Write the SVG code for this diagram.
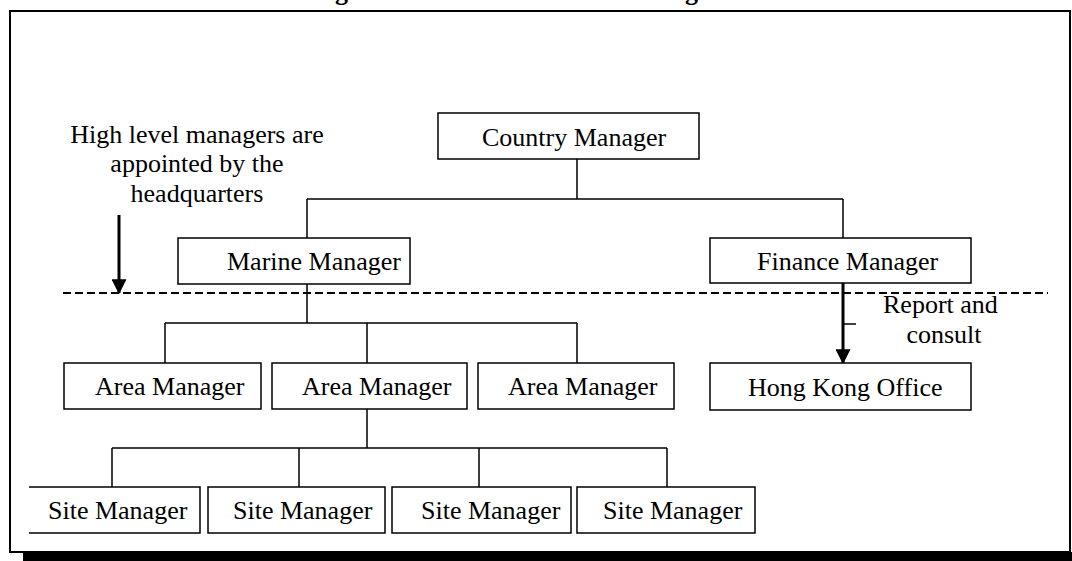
<svg xmlns="http://www.w3.org/2000/svg" width="1072" height="561" viewBox="0 0 1072 561">
<style>
  .box { fill: #fff; stroke: #000; stroke-width: 1.5; }
  .t { font-family: "Liberation Serif", "Times New Roman", serif; font-size: 26px; fill: #000; }
  .c { text-anchor: middle; }
  .ln { stroke: #000; stroke-width: 1.5; fill: none; }
  .thick { stroke: #000; stroke-width: 3; fill: none; }
  .title { font-family: "Liberation Serif", "Times New Roman", serif; font-size: 26px; font-weight: bold; fill: #000; }
</style>
<defs>
  <marker id="ah" markerWidth="5" markerHeight="5" refX="4.6" refY="2.5" orient="auto" markerUnits="strokeWidth">
    <path d="M0,0 L5,2.5 L0,5 Z" fill="#000"/>
  </marker>
</defs>
<rect width="1072" height="561" fill="#fff"/>
<g id="title-fragment">
  <text class="title" x="335" y="0">g</text>
  <text class="title" x="685" y="0">g</text>
</g>
<g id="frame">
  <rect x="10" y="11" width="1060" height="541" fill="none" stroke="#000" stroke-width="2"/>
  <rect x="23" y="552" width="1049" height="9" fill="#000"/>
</g>
<g id="connectors">
  <path class="ln" d="M577,159 V199 M307,199 H843 M307,199 V238 M843,199 V238"/>
  <path class="ln" d="M307,284 V323 M165,323 H577 M165,323 V363 M367,323 V363 M577,323 V363"/>
  <path class="ln" d="M367,409 V448 M112,448 H667 M112,448 V487 M299,448 V487 M479,448 V487 M667,448 V487"/>
  <line x1="63" y1="293" x2="1048" y2="293" stroke="#000" stroke-width="2" stroke-dasharray="8,4"/>
  <line class="thick" x1="119" y1="215" x2="119" y2="293" marker-end="url(#ah)"/>
  <line class="thick" x1="843" y1="283" x2="843" y2="363" marker-end="url(#ah)"/>
  <line class="ln" x1="843" y1="324" x2="856" y2="324"/>
</g>
<g id="note-hq">
  <text class="t c" x="197" y="143">High level managers are</text>
  <text class="t c" x="197" y="172">appointed by the</text>
  <text class="t c" x="197" y="202">headquarters</text>
</g>
<g id="note-report">
  <text class="t" x="883" y="313">Report and</text>
  <text class="t c" x="944" y="343">consult</text>
</g>
<g id="country-manager">
  <rect class="box" x="438" y="113" width="261" height="46"/>
  <text class="t" x="482" y="146">Country Manager</text>
</g>
<g id="marine-manager">
  <rect class="box" x="178" y="238" width="232" height="46"/>
  <text class="t" x="227" y="270">Marine Manager</text>
</g>
<g id="finance-manager">
  <rect class="box" x="710" y="238" width="261" height="45"/>
  <text class="t" x="757" y="270">Finance Manager</text>
</g>
<g id="area-manager-1">
  <rect class="box" x="64" y="363" width="197" height="46"/>
  <text class="t" x="95" y="395">Area Manager</text>
</g>
<g id="area-manager-2">
  <rect class="box" x="272" y="363" width="195" height="46"/>
  <text class="t" x="302" y="395">Area Manager</text>
</g>
<g id="area-manager-3">
  <rect class="box" x="478" y="363" width="196" height="46"/>
  <text class="t" x="508" y="395">Area Manager</text>
</g>
<g id="hong-kong-office">
  <rect class="box" x="710" y="363" width="261" height="47"/>
  <text class="t" x="748" y="396">Hong Kong Office</text>
</g>
<g id="site-manager-1">
  <path class="box" d="M29,487 H200 V533 H29"/>
  <text class="t" x="48" y="519">Site Manager</text>
</g>
<g id="site-manager-2">
  <rect class="box" x="208" y="487" width="177" height="46"/>
  <text class="t" x="233" y="519">Site Manager</text>
</g>
<g id="site-manager-3">
  <rect class="box" x="392" y="487" width="179" height="46"/>
  <text class="t" x="421" y="519">Site Manager</text>
</g>
<g id="site-manager-4">
  <rect class="box" x="577" y="487" width="178" height="46"/>
  <text class="t" x="603" y="519">Site Manager</text>
</g>
</svg>
